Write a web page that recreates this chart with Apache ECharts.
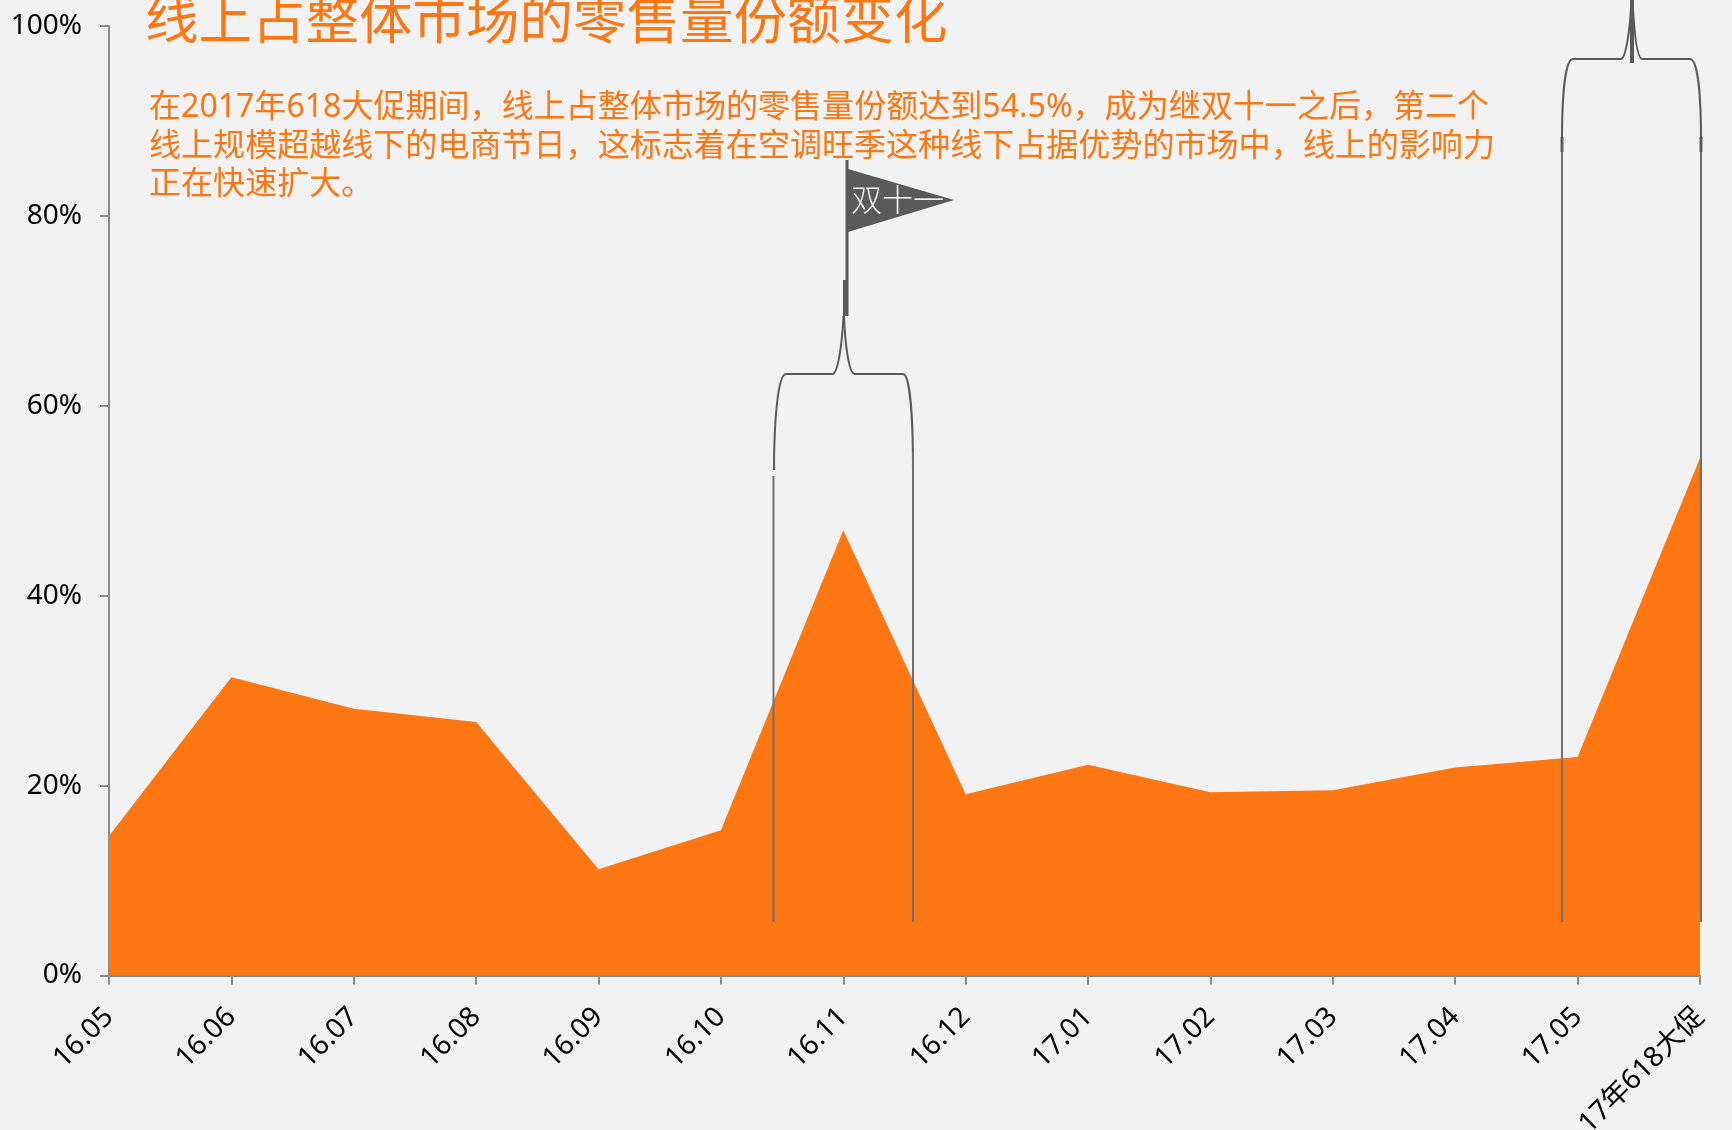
<!DOCTYPE html>
<html><head><meta charset="utf-8">
<style>html,body{margin:0;padding:0;background:#f2f2f2;overflow:hidden}#c{width:1732px;height:1130px}</style>
<script src="https://cdn.jsdelivr.net/npm/echarts@6/dist/echarts.min.js"></script>
</head><body><div id="c"></div>
<script>
const categories = ['16.05','16.06','16.07','16.08','16.09','16.10','16.11','16.12','17.01','17.02','17.03','17.04','17.05','17年618大促'];
const shareValues = [14.7,31.4,28.1,26.7,11.2,15.3,46.9,19.1,22.2,19.3,19.5,21.9,23.0,54.5];
const titleText = '线上占整体市场的零售量份额变化';
const bodyLines = [
  '在2017年618大促期间，线上占整体市场的零售量份额达到54.5%，成为继双十一之后，第二个',
  '线上规模超越线下的电商节日，这标志着在空调旺季这种线下占据优势的市场中，线上的影响力',
  '正在快速扩大。'
];
const flagText = '双十一';

const ORANGE = '#FF7713', DARK = '#5A5A5A', AXIS = '#8C8C8C', STEM = '#6E6E6E';
const FONT = '"Noto Sans","Noto Sans CJK SC",sans-serif';
const CJK = '"Noto Sans CJK SC","Noto Sans",sans-serif';

function seg(x1,y1,x2,y2,w,color){
  return {type:'line', shape:{x1,y1,x2,y2}, silent:true, z:10,
    style:{stroke:color||DARK, lineWidth:w||2}};
}
function cur(x1,y1,cpx1,cpy1,cpx2,cpy2,x2,y2){
  return {type:'bezierCurve', shape:{x1,y1,cpx1,cpy1,cpx2,cpy2,x2,y2}, silent:true, z:10,
    style:{fill:null, stroke:DARK, lineWidth:2}};
}
const annotations = [
  // November brace
  cur(774,470, 774,420, 778,374, 786,374),
  seg(786,374,833,374),
  cur(833,374, 838,372, 842,345, 843.5,316),
  cur(913,470, 913,410, 909,374, 903,374),
  seg(903,374,854,374),
  cur(854,374, 849,372, 845,345, 844,316),
  seg(773.5,476,773.5,922,2,STEM),
  seg(913,452,913,922,2,STEM),
  seg(845,280,845,316,4),
  seg(847,160,847,316,3),
  {type:'polygon', shape:{points:[[848,169],[954,200],[848,232]]}, silent:true, z:10, style:{fill:DARK}},
  {type:'text', x:851, y:199, silent:true, z:11,
    style:{text:flagText, fill:'#F2F2F2', font:'300 31px '+CJK, verticalAlign:'middle'}},
  // 618 brace
  cur(1562,140, 1562,90, 1566,59, 1573,59),
  seg(1573,59,1621,59),
  cur(1621,59, 1626,58, 1630,30, 1631.5,0),
  cur(1701,140, 1701,90, 1697,59, 1690,59),
  seg(1690,59,1642,59),
  cur(1642,59, 1637,58, 1634,30, 1632.5,0),
  seg(1562,137,1562,922,2,STEM),
  seg(1701,137,1701,922,2,STEM),
  seg(1562,137,1562,152,3),
  seg(1701,137,1701,152,3),
  seg(1632,0,1632,63,4),
  // body text
  ...bodyLines.map((t,i)=>({type:'text', x:149, y:108+i*38.5, silent:true, z:12,
    style:{text:t, fill:ORANGE, font:'32.05px '+FONT, verticalAlign:'middle'}}))
];

const chart = echarts.init(document.getElementById('c'), null, {renderer:'canvas'});
chart.setOption({
  backgroundColor:'#F2F2F2',
  animation:false,
  title:{text:titleText, left:145, top:-2.5, padding:0,
    textStyle:{color:ORANGE, fontFamily:FONT, fontSize:53.5, fontWeight:'normal'}},
  grid:{left:109, right:32, top:26, bottom:154.5, containLabel:false, outerBoundsMode:'none'},
  xAxis:{type:'category', data:categories, boundaryGap:false,
    axisLine:{show:true, onZero:false, lineStyle:{color:AXIS, width:2}},
    axisTick:{show:true, alignWithLabel:true, length:9, lineStyle:{color:AXIS, width:2}},
    axisLabel:{rotate:45, interval:0, margin:37, color:'#000', fontFamily:FONT, fontSize:28, hideOverlap:false, padding:[9,0,0,0]},
    splitLine:{show:false}},
  yAxis:{type:'value', min:0, max:100, interval:20,
    axisLine:{show:true, lineStyle:{color:AXIS, width:2}},
    axisTick:{show:true, length:9, lineStyle:{color:AXIS, width:2}},
    axisLabel:{formatter:'{value}%', margin:27, color:'#000', fontFamily:FONT, fontSize:28, padding:[8,0,0,0]},
    splitLine:{show:false}},
  series:[{type:'line', data:shareValues, symbol:'none', lineStyle:{width:0},
    areaStyle:{color:ORANGE, opacity:1}, itemStyle:{color:ORANGE}, z:2}],
  graphic:annotations
});
</script></body></html>
